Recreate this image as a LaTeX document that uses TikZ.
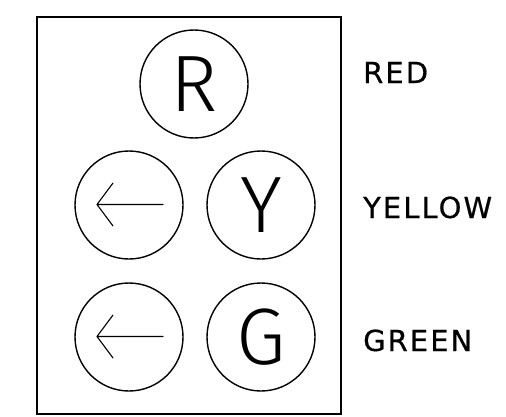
\documentclass[tikz,border=0pt]{standalone}
\usepackage{fontspec}
\usepackage{pdfrender}
\usetikzlibrary{calc}
\setmainfont{DejaVu Sans}
\IfFontExistsTF{Fira Sans Light}{\newfontfamily\lampfont{Fira Sans Light}}{%
  \IfFontExistsTF{DejaVu Sans ExtraLight}{\newfontfamily\lampfont{DejaVu Sans ExtraLight}}{%
    \IfFontExistsTF{Lato Light}{\newfontfamily\lampfont{Lato Light}}{%
      \newfontfamily\lampfont{DejaVu Sans}}}}
\newfontfamily\tagfont{DejaVu Sans}[LetterSpace=7, FakeBold=0.6]
\tikzset{
  frame/.style={draw=black, line width=2pt},
  lamp/.style={draw=black, circle, line width=1.4pt, minimum size=108pt, inner sep=0pt,
    font=\lampfont\fontsize{80}{80}\selectfont},
  tag/.style={anchor=base west, inner sep=0pt, font=\tagfont\fontsize{29}{30}\selectfont},
  pointer/.style={draw=black, line width=1.1pt, line cap=round, line join=round},
}
\newcommand{\hollow}[1]{\textpdfrender{TextRenderingMode=1,LineWidth=0.7pt}{#1}}

\begin{document}
\begin{tikzpicture}[x=1pt, y=1pt]
    \useasboundingbox (0,0) rectangle (506,416);
    \draw[frame] (37,2) rectangle (341,399);
    % signal heads
    \node[lamp] (red) at (194,332) {\hollow{R}};
    \node[lamp] (lyel) at (129,211) {};
    \node[lamp] (yel) at (261,211) {\hollow{Y}};
    \node[lamp] (lgrn) at (129,79) {};
    \node[lamp] (grn) at (261,79) {\hollow{G}};
    \foreach \lp in {lyel,lgrn}
      \draw[pointer] ($(\lp)+(34,0.5)$) -- ($(\lp)+(-32,0.5)$)
        ($(\lp)+(-16,22)$) -- ($(\lp)+(-32,0.5)$) -- ($(\lp)+(-16,-21)$);
    % aspect names
    \node[tag] (tred) at (363,333) {RED};
    \node[tag] (tyel) at (363,198) {YELLOW};
    \node[tag] (tgrn) at (363,65) {GREEN};
  \end{tikzpicture}
\end{document}
